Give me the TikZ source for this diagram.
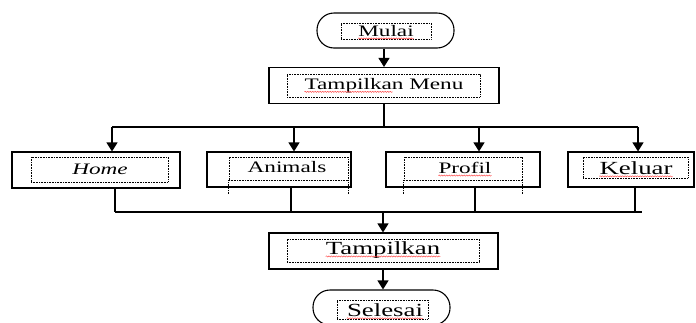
\documentclass[tikz,border=0pt]{standalone}
\usepackage{fontspec}
\setmainfont{Liberation Serif}[FakeStretch=1.45]
\usetikzlibrary{arrows.meta,calc,decorations.pathmorphing}

\tikzset{
    box/.style={draw, line width=1.1pt, inner sep=0pt, minimum height=36pt},
    term/.style={box, rounded corners=17pt, minimum height=35pt},
    txtbox/.style={draw, dash pattern=on 0.8pt off 0.8pt, line width=0.8pt, inner sep=0pt},
    txt/.style={inner sep=0pt, font=\fontsize{16}{19}\selectfont},
    bigtxt/.style={inner sep=0pt, font=\fontsize{18.5}{22}\selectfont},
    link/.style={line width=1.1pt},
    arr/.style={link, -{Triangle[length=9pt, width=11pt]}},
    wave/.style={red!75, line width=0.45pt, decorate,
        decoration={snake, amplitude=0.6pt, segment length=2.5pt}}
}

\begin{document}
\begin{tikzpicture}[x=1pt, y=-1pt]
    \useasboundingbox (0,0) rectangle (696,322);

    % outer boxes
    \node[term, minimum width=137pt] (mulai) at (385.5,30.5) {};
    \node[box, minimum width=230pt] (menu) at (384,85.5) {};
    \node[box, minimum width=168pt] (home) at (96,170) {};
    \node[box, minimum width=144pt, minimum height=35pt] (animals) at (279,169.5) {};
    \node[box, minimum width=154pt, minimum height=35pt] (profil) at (463,169.5) {};
    \node[box, minimum width=126pt, minimum height=35pt] (keluar) at (631,169.5) {};
    \node[box, minimum width=229pt] (tampil) at (383.5,251) {};
    \node[term, minimum width=137pt] (selesai) at (381.5,307.5) {};

    % dotted text frames
    \node[txtbox, minimum width=90pt, minimum height=16pt] (d-mulai) at (386,31) {};
    \node[txtbox, minimum width=193pt, minimum height=23pt] (d-menu) at (383.5,85.5) {};
    \node[txtbox, minimum width=137pt, minimum height=25pt] (d-home) at (99.5,169.5) {};
    \node[txtbox, minimum width=119pt, minimum height=23pt] (d-animals) at (288.5,168.5) {};
    \node[txtbox, minimum width=118pt, minimum height=23pt] (d-profil) at (463,168.5) {};
    \node[txtbox, minimum width=105pt, minimum height=21pt] (d-keluar) at (635.5,167.5) {};
    \node[txtbox, minimum width=192pt, minimum height=23pt] (d-tampil) at (383,250.5) {};
    \node[txtbox, minimum width=91pt, minimum height=19pt] (d-selesai) at (382.5,309.5) {};
    \draw[txtbox] (d-animals.south west) -- ++(0,13) (d-animals.south east) -- ++(0,13);
    \draw[txtbox] (d-profil.south west) -- ++(0,14) (d-profil.south east) -- ++(0,14);

    % texts
    \node[txt] (t-mulai) at (386,31) {Mulai};
    \node[txt] (t-menu) at (384,86) {Tampilkan Menu};
    \node[txt] (t-home) at (100,169) {\itshape Home};
    \node[txt] (t-animals) at (287,167) {Animals};
    \node[txt] (t-profil) at (465,168) {Profil};
    \node[bigtxt] (t-keluar) at (636,168) {Keluar};
    \node[bigtxt] (t-tampil) at (383,250) {Tampilkan};
    \node[bigtxt] (t-selesai) at (385,310) {Selesai};

    % spelling marks
    \draw[wave] ([yshift=-2pt]t-mulai.base west) -- ([yshift=-2pt]t-mulai.base east);
    \draw[wave] ([yshift=-2pt]t-menu.base west) -- ([yshift=-2pt]$(t-menu.base west)!0.554!(t-menu.base east)$);
    \draw[wave] ([yshift=-2pt]t-profil.base west) -- ([yshift=-2pt]t-profil.base east);
    \draw[wave] ([yshift=-2pt]t-keluar.base west) -- ([yshift=-2pt]t-keluar.base east);
    \draw[wave] ([yshift=-2pt]t-tampil.base west) -- ([yshift=-2pt]t-tampil.base east);
    \draw[wave] ([yshift=-2pt]t-selesai.base west) -- ([yshift=-2pt]t-selesai.base east);

    % branch points
    \coordinate (a-home) at (112,127);
    \coordinate (a-animals) at (294,127);
    \coordinate (a-profil) at (479,127);
    \coordinate (a-keluar) at (638,127);
    \coordinate (b-home) at (115,212);
    \coordinate (b-animals) at (291,212);
    \coordinate (b-profil) at (475,212);
    \coordinate (b-keluar) at (635,212);
    \coordinate (b-end) at (642,212);
    \coordinate (join) at (383,212);

    % connectors
    \draw[arr] (mulai.south -| menu.north) -- (menu.north);
    \draw[link] (menu.south) -- (menu.south |- a-home);
    \draw[link] (a-home) -- (a-keluar);
    \foreach \n in {home, animals, profil, keluar}
        \draw[arr] (a-\n) -- (a-\n |- \n.north);
    \foreach \n in {home, animals, profil, keluar}
        \draw[link] (\n.south -| b-\n) -- (b-\n);
    \draw[link] (b-home) -- (b-end);
    \draw[arr] (join) -- (join |- tampil.north);
    \draw[arr] (tampil.south -| join) -- (join |- selesai.north);
\end{tikzpicture}
\end{document}
